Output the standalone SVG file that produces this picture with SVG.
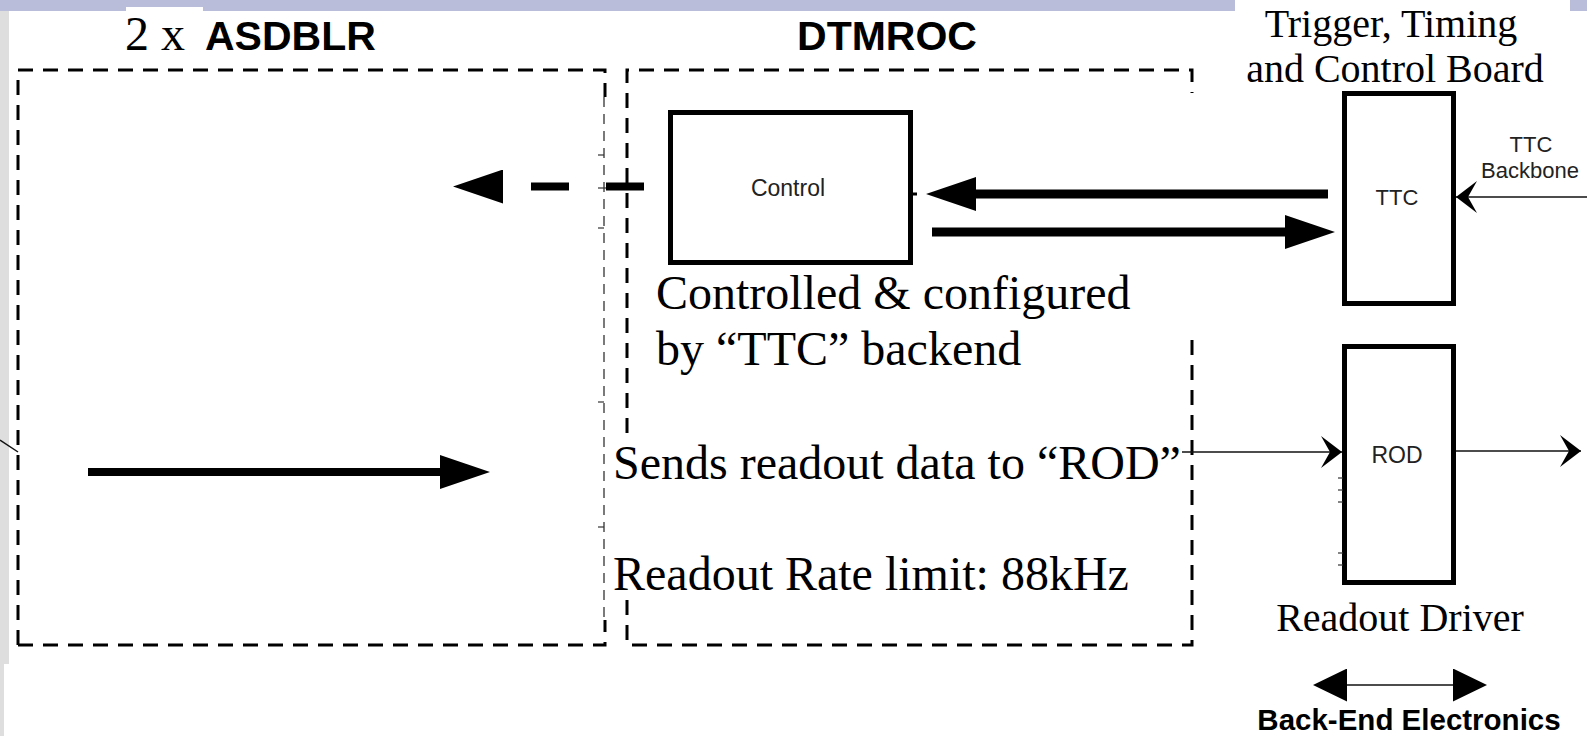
<svg xmlns="http://www.w3.org/2000/svg" width="1587" height="736" viewBox="0 0 1587 736">
  <style>
    .serif { font-family: "Liberation Serif", "Times New Roman", serif; fill: #000; }
    .big { font-size: 48px; }
    .cap { font-size: 40px; }
    .title { font-family: "Liberation Sans", Arial, sans-serif; font-weight: bold; font-size: 41px; fill: #000; }
    .lbl { font-family: "Liberation Sans", Arial, sans-serif; font-size: 22px; fill: #222; }
    .dash { fill: none; stroke: #000; stroke-width: 3; stroke-dasharray: 15 10; }
    .thin-dash { fill: none; stroke: #222; stroke-width: 1.2; stroke-dasharray: 10 7; }
    .block { fill: #fff; stroke: #000; stroke-width: 5; }
    .thick { fill: none; stroke: #000; stroke-width: 9; }
    .wire { fill: none; stroke: #111; stroke-width: 1.5; }
    .tick { stroke: #333; stroke-width: 1.2; }
  </style>
  <defs>
    <!-- solid triangular head, base at the path end -->
    <marker id="tri" markerUnits="userSpaceOnUse" viewBox="0 0 50 34" refX="0" refY="17" markerWidth="50" markerHeight="34" orient="auto-start-reverse">
      <path d="M0,0 L50,17 L0,34 Z" fill="#000"/>
    </marker>
    <marker id="tri-s" markerUnits="userSpaceOnUse" viewBox="0 0 34 33" refX="0" refY="16.5" markerWidth="34" markerHeight="33" orient="auto-start-reverse">
      <path d="M0,0 L34,16.5 L0,33 Z" fill="#000"/>
    </marker>
    <!-- barbed head for the thin signal lines, tip at the path end -->
    <marker id="barb" markerUnits="userSpaceOnUse" viewBox="0 0 21 32" refX="21" refY="16" markerWidth="21" markerHeight="32" orient="auto">
      <path d="M0,0 L21,16 L0,32 L9,16 Z" fill="#000"/>
    </marker>
  </defs>

  <!-- page background -->
  <rect x="0" y="0" width="1587" height="736" fill="#fff"/>
  <rect x="0" y="0" width="1235" height="11" fill="#babdd9"/>
  <rect x="1570" y="0" width="17" height="11" fill="#babdd9"/>
  <rect x="126" y="7" width="77" height="4" fill="#fff"/>
  <rect x="0" y="11" width="9" height="653" fill="#dedede"/>
  <rect x="0" y="664" width="4" height="72" fill="#dedede"/>
  <line x1="0" y1="440" x2="18" y2="452" class="wire"/>

  <!-- front-end amplifier frame -->
  <g id="frame-asdblr">
    <path class="dash" d="M18,645 V70 H605 V97"/>
    <path class="dash" d="M18,645 H605 V620"/>
    <path class="thin-dash" d="M604,97 V620"/>
    <line class="tick" x1="598" y1="155" x2="604" y2="155"/>
    <line class="tick" x1="598" y1="188" x2="606" y2="188"/>
    <line class="tick" x1="598" y1="228" x2="604" y2="228"/>
    <line class="tick" x1="598" y1="402" x2="604" y2="402"/>
    <line class="tick" x1="598" y1="527" x2="604" y2="527"/>
    <text class="serif big" x="125" y="50">2 x</text>
    <text class="title" x="205" y="50">ASDBLR</text>
  </g>

  <!-- readout chip frame -->
  <g id="frame-dtmroc">
    <path class="dash" d="M627,433 V70 H1192 V93"/>
    <path class="dash" d="M627,600 V645 H1192 V333"/>
    <text class="title" x="887" y="50" text-anchor="middle">DTMROC</text>
    <text class="serif big" x="656" y="309">Controlled &amp; configured</text>
    <text class="serif big" x="656" y="365">by “TTC” backend</text>
    <text class="serif big" x="613" y="479">Sends readout data to “ROD”</text>
    <text class="serif big" x="613" y="590">Readout Rate limit: 88kHz</text>
  </g>

  <g id="control">
    <rect class="block" x="670.5" y="112.5" width="240" height="150"/>
    <text class="lbl" x="788" y="196" text-anchor="middle" style="font-size:23px">Control</text>
  </g>

  <g id="ttc">
    <rect class="block" x="1344.5" y="93.5" width="109" height="210"/>
    <text class="lbl" x="1397" y="205" text-anchor="middle">TTC</text>
    <text class="serif cap" x="1391" y="37" text-anchor="middle">Trigger, Timing</text>
    <text class="serif cap" x="1395" y="82" text-anchor="middle">and Control Board</text>
    <text class="lbl" x="1531" y="152" text-anchor="middle">TTC</text>
    <text class="lbl" x="1530" y="178" text-anchor="middle">Backbone</text>
  </g>

  <g id="rod">
    <rect class="block" x="1344.5" y="346.5" width="109" height="236"/>
    <text class="lbl" x="1397" y="463" text-anchor="middle" style="font-size:23px">ROD</text>
    <line class="tick" x1="1338" y1="478" x2="1343" y2="478"/>
    <line class="tick" x1="1338" y1="490" x2="1343" y2="490"/>
    <line class="tick" x1="1338" y1="502" x2="1343" y2="502"/>
    <line class="tick" x1="1338" y1="553" x2="1343" y2="553"/>
    <line class="tick" x1="1338" y1="565" x2="1343" y2="565"/>
    <text class="serif cap" x="1400" y="631" text-anchor="middle">Readout Driver</text>
  </g>

  <g id="back-end">
    <text class="title" x="1409" y="730" text-anchor="middle" style="font-size:29.5px">Back-End Electronics</text>
  </g>

  <g id="connectors">
    <!-- ASDBLR to DTMROC data -->
    <path class="thick" style="stroke-width:8" d="M88,472 H440" marker-end="url(#tri)"/>
    <!-- control to ASDBLR (dashed) -->
    <path class="thick" style="stroke-width:8;stroke-dasharray:38 37" d="M644,186.5 H503" marker-end="url(#tri)"/>
    <!-- TTC to control -->
    <path class="thick" d="M1328,194 H976" marker-end="url(#tri)"/>
    <line x1="913" y1="194" x2="917" y2="194" stroke="#000" stroke-width="3"/>
    <!-- control to TTC -->
    <path class="thick" d="M932,232 H1285" marker-end="url(#tri)"/>
    <!-- TTC backbone into TTC -->
    <path class="wire" d="M1587,197 H1456" marker-end="url(#barb)"/>
    <!-- readout data into ROD -->
    <path class="wire" d="M1182,452 H1342" marker-end="url(#barb)"/>
    <!-- ROD output -->
    <path class="wire" d="M1456,451 H1581" marker-end="url(#barb)"/>
    <!-- back-end span -->
    <path class="wire" d="M1347,685 H1453" marker-start="url(#tri-s)" marker-end="url(#tri-s)"/>
  </g>
</svg>
